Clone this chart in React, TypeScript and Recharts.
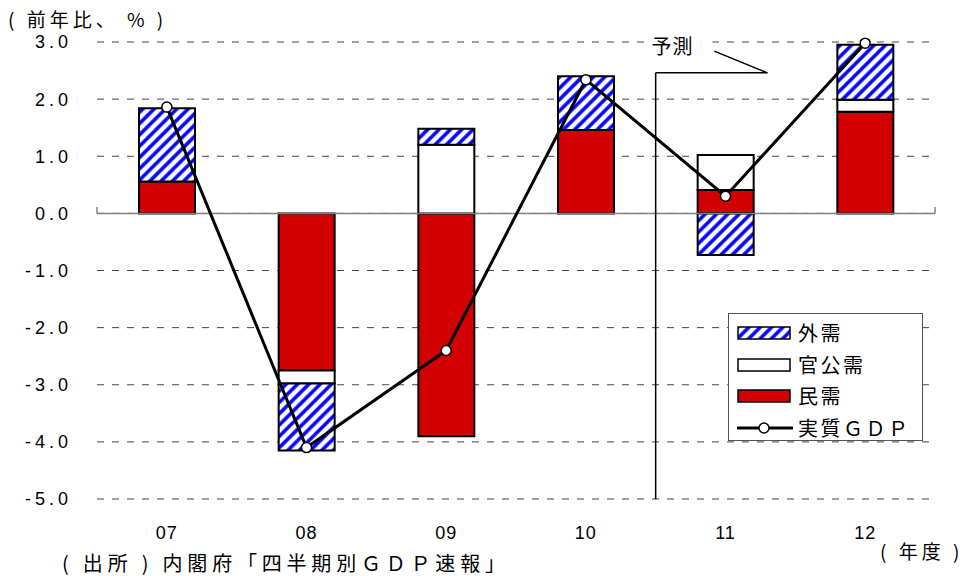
import React from "react";
import {
  ComposedChart,
  Bar,
  Line,
  XAxis,
  YAxis,
  CartesianGrid,
  ReferenceLine,
  ReferenceDot,
  Legend,
} from "recharts";

// ==================== DATA ====================

const years = ["07", "08", "09", "10", "11", "12"];
// contributions to real GDP growth (pp)
const privateDemand = [0.56, -2.75, -3.9, 1.46, 0.41, 1.78];
const publicDemand = [0, -0.23, 1.2, 0, 0.61, 0.21];
const externalDemand = [1.28, -1.17, 0.28, 0.94, -0.73, 0.96];
const realGdp = [1.86, -4.1, -2.4, 2.34, 0.3, 2.98];
const yTicks = [-5, -4, -3, -2, -1, 0, 1, 2, 3];

// forecast divider sits between FY10 and FY11
const forecastX = 4.5;
const forecastTop = 2.46;
const leaderEnd = { x: 5.3, y: 2.46 };
const leaderTip = { x: 4.92, y: 2.84 };
const forecastLabel = { x: 4.62, y: 2.92 };

const data = years.map((year, i) => ({
  idx: i + 1,
  year,
  private: privateDemand[i],
  public: publicDemand[i],
  external: externalDemand[i],
  gdp: realGdp[i],
}));

const RED = "#d20000";
const BLUE = "#0000ff";
const SANS = "'Liberation Sans', Arial, sans-serif";
const CJK = "'Noto Sans CJK JP', sans-serif";

// ==================== PIECES ====================

const HatchDefs = ({ id }: { id: string }) => (
  <defs>
    <pattern
      id={id}
      width={8}
      height={8}
      patternUnits="userSpaceOnUse"
      patternTransform="rotate(45)"
    >
      <rect width={8} height={8} fill="#fff" />
      <line x1={2} y1={0} x2={2} y2={8} stroke={BLUE} strokeWidth={3.5} />
    </pattern>
  </defs>
);

const YearTick = ({ x, y, payload }: any) => (
  <text
    x={x}
    y={y}
    dy={32}
    textAnchor="middle"
    fontSize={18}
    fontFamily={SANS}
    letterSpacing={1}
    fill="#000"
  >
    {years[payload.value - 1]}
  </text>
);

const ForecastLabel = ({ cx, cy }: any) => (
  <g>
    <rect x={cx - 26} y={cy - 14} width={66} height={26} fill="#fff" />
    <text
      x={cx}
      y={cy}
      dy={7}
      textAnchor="middle"
      fontSize={20}
      fontFamily={CJK}
      letterSpacing={1}
      fill="#000"
    >
      予測
    </text>
  </g>
);

const legendRows = [
  { label: "外需", kind: "hatch" },
  { label: "官公需", kind: "white" },
  { label: "民需", kind: "red" },
  { label: "実質ＧＤＰ", kind: "line" },
];

const LegendSwatch = ({ kind }: { kind: string }) => (
  <svg width={58} height={16} style={{ display: "block" }}>
    {kind === "hatch" && <HatchDefs id="legend-hatch" />}
    {kind === "line" ? (
      <>
        <line x1={0} y1={8} x2={56} y2={8} stroke="#000" strokeWidth={3} />
        <circle cx={27} cy={8} r={5} fill="#fff" stroke="#000" strokeWidth={1.5} />
      </>
    ) : (
      <rect
        x={1}
        y={2}
        width={52}
        height={12}
        fill={kind === "hatch" ? "url(#legend-hatch)" : kind === "red" ? RED : "#fff"}
        stroke="#000"
        strokeWidth={1.5}
      />
    )}
  </svg>
);

const DemandLegend = () => (
  <div
    style={{
      width: 195,
      height: 128,
      boxSizing: "border-box",
      border: "1px solid #555",
      background: "#fff",
      paddingTop: 3,
    }}
  >
    {legendRows.map((row) => (
      <div
        key={row.label}
        style={{ display: "flex", alignItems: "center", height: 31.7, paddingLeft: 8 }}
      >
        <LegendSwatch kind={row.kind} />
        <span
          style={{
            marginLeft: 3,
            fontFamily: CJK,
            fontSize: 20,
            letterSpacing: 2.5,
            lineHeight: "20px",
            color: "#000",
          }}
        >
          {row.label}
        </span>
      </div>
    ))}
  </div>
);

const noteStyle: React.CSSProperties = {
  position: "absolute",
  fontFamily: CJK,
  fontSize: 19,
  lineHeight: "20px",
  color: "#000",
  whiteSpace: "nowrap",
};

// ==================== CHART ====================

export default function App() {
  return (
    <div
      style={{
        position: "absolute",
        left: 0,
        top: 0,
        width: 969,
        height: 576,
        background: "#fff",
      }}
    >
      <ComposedChart
        width={969}
        height={576}
        data={data}
        stackOffset="sign"
        margin={{ top: 42, right: 34, bottom: 0, left: 0 }}
      >
        <HatchDefs id="bar-hatch" />
        <CartesianGrid
          vertical={false}
          stroke="#444"
          strokeDasharray="7 8"
        />
        <XAxis
          dataKey="idx"
          type="number"
          domain={[0.5, 6.5]}
          ticks={[1, 2, 3, 4, 5, 6]}
          axisLine={false}
          tickLine={false}
          height={77}
          tick={<YearTick />}
        />
        <YAxis
          type="number"
          domain={[-5, 3]}
          ticks={yTicks}
          width={97}
          axisLine={false}
          tickLine={false}
          tickSize={6}
          tickMargin={19}
          tickFormatter={(v: number) => v.toFixed(1)}
          tick={{ fontSize: 18, fontFamily: SANS, fill: "#000", letterSpacing: 4 }}
        />
        <ReferenceLine y={0} stroke="#808080" strokeWidth={1.5} />
        <ReferenceLine
          segment={[{ x: 0.5, y: 0 }, { x: 0.5, y: 0.11 }]}
          stroke="#808080"
          strokeWidth={1.5}
        />
        <ReferenceLine
          segment={[{ x: 6.5, y: 0 }, { x: 6.5, y: 0.11 }]}
          stroke="#808080"
          strokeWidth={1.5}
        />

        <Bar dataKey="private" stackId="d" barSize={56} fill={RED} stroke="#000" strokeWidth={2} isAnimationActive={false} />
        <Bar dataKey="public" stackId="d" barSize={56} fill="#fff" stroke="#000" strokeWidth={2} isAnimationActive={false} />
        <Bar dataKey="external" stackId="d" barSize={56} fill="url(#bar-hatch)" stroke="#000" strokeWidth={2} isAnimationActive={false} />

        {/* forecast divider with leader line */}
        <ReferenceLine
          segment={[{ x: forecastX, y: -5 }, { x: forecastX, y: forecastTop }]}
          stroke="#000"
          strokeWidth={1.5}
        />
        <ReferenceLine
          segment={[{ x: forecastX, y: forecastTop }, leaderEnd]}
          stroke="#000"
          strokeWidth={1.5}
        />
        <ReferenceLine segment={[leaderEnd, leaderTip]} stroke="#000" strokeWidth={1.5} />
        <ReferenceDot
          x={forecastLabel.x}
          y={forecastLabel.y}
          r={0}
          shape={<ForecastLabel />}
        />

        <Line
          dataKey="gdp"
          type="linear"
          stroke="#000"
          strokeWidth={3}
          dot={{ r: 5, fill: "#fff", stroke: "#000", strokeWidth: 1.5 }}
          isAnimationActive={false}
        />

        <Legend
          layout="vertical"
          align="center"
          verticalAlign="middle"
          content={<DemandLegend />}
          wrapperStyle={{ left: 728, top: 313, width: 195, height: 128 }}
        />
      </ComposedChart>

      <div style={{ ...noteStyle, left: 8, top: 9, letterSpacing: 4 }}>( 前年比、 % )</div>
      <div style={{ ...noteStyle, left: 880, top: 541, letterSpacing: 4 }}>( 年度 )</div>
      <div style={{ ...noteStyle, left: 62, top: 553, fontSize: 20, letterSpacing: 4.8 }}>
        ( 出所 ) 内閣府「四半期別ＧＤＰ速報」
      </div>
    </div>
  );
}
